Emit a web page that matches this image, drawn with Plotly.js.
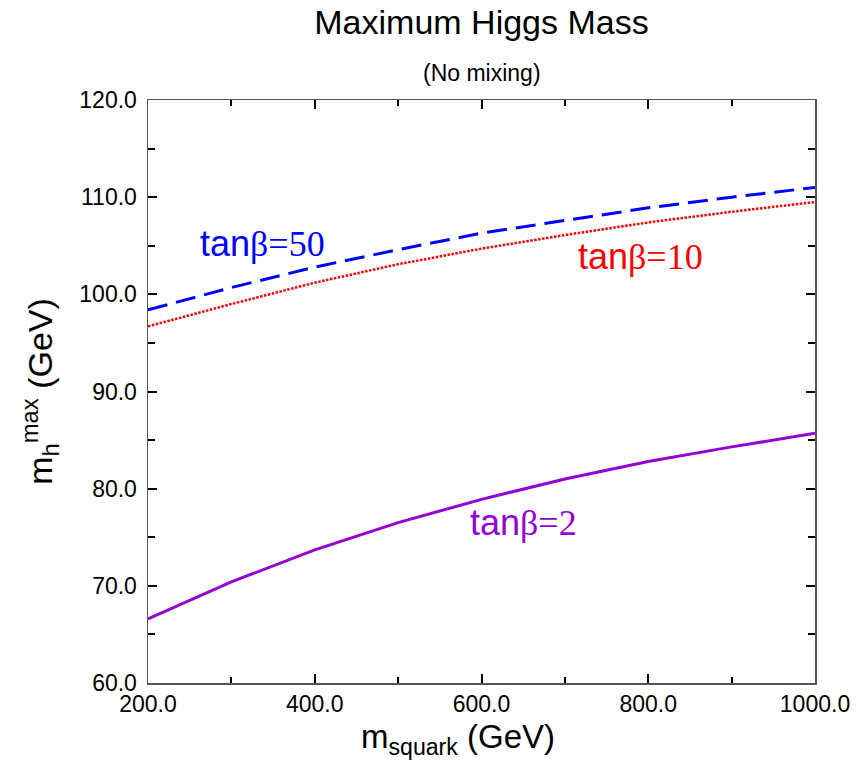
<!DOCTYPE html>
<html>
<head>
<meta charset="utf-8">
<script src="https://cdn.plot.ly/plotly-3.0.1.min.js"></script>
<style>html,body{margin:0;padding:0;background:#fff;}#chart{width:856px;height:762px;}</style>
</head>
<body>
<div id="chart"></div>
<script>
const mSquark = [200, 300, 400, 500, 600, 700, 800, 900, 1000];
const tan50 = [98.4, 100.7, 102.8, 104.6, 106.3, 107.6, 108.9, 110.0, 111.0];
const tan10 = [96.7, 99.0, 101.2, 103.1, 104.7, 106.1, 107.4, 108.5, 109.5];
const tan2  = [66.6, 70.4, 73.7, 76.5, 78.9, 81.0, 82.8, 84.3, 85.7];

const seriesLabels = ['tanβ=50', 'tanβ=10', 'tanβ=2'];
const labelX = [337, 791, 650];
const labelY = [105.2, 103.9, 76.5];
const colors = ['#0000ff', '#ff0000', '#9400d3'];

const xTicks = [200, 400, 600, 800, 1000];
const yTicks = [60, 70, 80, 90, 100, 110, 120];

const sans = 'Liberation Sans, Arial, Helvetica, sans-serif';
const serif = 'Liberation Serif, Times New Roman, serif';

const traces = [
  {x: mSquark, y: tan50, mode: 'lines', line: {color: colors[0], width: 3, dash: '20px,9px'}, hoverinfo: 'skip'},
  {x: mSquark, y: tan10, mode: 'lines', line: {color: colors[1], width: 2.5, dash: '2.5px,1.5px'}, hoverinfo: 'skip'},
  {x: mSquark, y: tan2,  mode: 'lines', line: {color: colors[2], width: 3}, hoverinfo: 'skip'}
];

function mixLabel(t) {
  const i = t.indexOf('β');
  return t.slice(0, i) + '<span style="font-family:' + serif + '">' + t.slice(i) + '</span>';
}

const annotations = seriesLabels.map((t, i) => ({
  x: labelX[i], y: labelY[i], xref: 'x', yref: 'y',
  text: mixLabel(t), showarrow: false,
  font: {family: sans, size: 36, color: colors[i]},
  xanchor: 'center', yanchor: 'middle'
}));
annotations.push({
  x: 0.5, y: 1 + 27/583, xref: 'paper', yref: 'paper',
  text: '(No mixing)', showarrow: false,
  font: {family: sans, size: 23, color: '#000'},
  xanchor: 'center', yanchor: 'middle'
});
annotations.push({
  x: 0.5, y: 0, xref: 'paper', yref: 'paper', xshift: -24, yshift: -56,
  text: 'm<sub>squark</sub> (GeV)', showarrow: false,
  font: {family: sans, size: 33, color: '#000'},
  xanchor: 'center', yanchor: 'middle'
});

const axisCommon = {
  showgrid: false, zeroline: false,
  showline: true, linecolor: '#555', linewidth: 1.5, mirror: 'ticks',
  ticks: 'inside', ticklen: 9, tickwidth: 2, tickcolor: '#000',
  tickformat: '.1f',
  tickfont: {family: sans, size: 23, color: '#000'}
};

const layout = {
  width: 856, height: 762,
  margin: {l: 148, r: 41, t: 100, b: 79},
  paper_bgcolor: '#fff', plot_bgcolor: '#fff',
  showlegend: false,
  title: {
    text: 'Maximum Higgs Mass',
    font: {family: sans, size: 34, color: '#000'},
    x: 0.5, xref: 'paper', y: 1 - 22/762, yref: 'container', yanchor: 'middle'
  },
  xaxis: Object.assign({}, axisCommon, {
    range: [200, 1000], tickvals: xTicks,
    minor: {dtick: 100, ticks: 'inside', ticklen: 6, tickwidth: 2, tickcolor: '#000', showgrid: false}
  }),
  yaxis: Object.assign({}, axisCommon, {
    range: [60, 120], tickvals: yTicks, ticklabelstandoff: 5,
    minor: {dtick: 5, ticks: 'inside', ticklen: 7, tickwidth: 2, tickcolor: '#000', showgrid: false},
    title: {text: 'm<sub>h</sub><sup>max</sup> (GeV)', font: {family: sans, size: 34, color: '#000'}, standoff: 16}
  }),
  annotations: annotations
};

Plotly.newPlot('chart', traces, layout, {staticPlot: true, displayModeBar: false});
</script>
</body>
</html>
